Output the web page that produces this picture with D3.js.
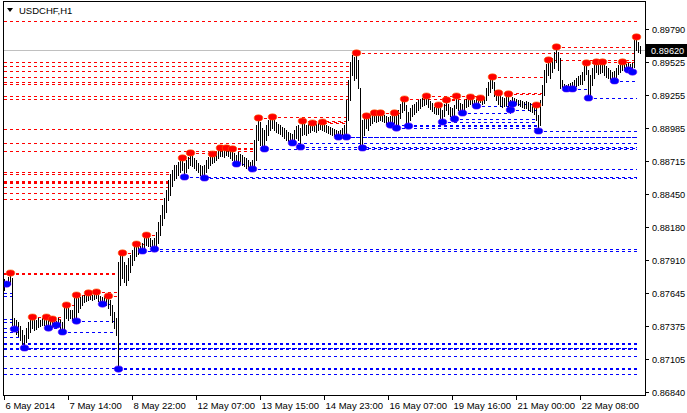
<!DOCTYPE html>
<html><head><meta charset="utf-8">
<script src="https://cdn.jsdelivr.net/npm/d3@7"></script>
<style>
body{margin:0;background:#fff}
svg{display:block}
text{font-family:"Liberation Sans",Arial,sans-serif;fill:#000}
</style>
</head><body>
<svg id="c" width="687" height="413"></svg>
<script>
// ---------------- data ----------------
const symbol = "USDCHF,H1";
const lastPrice = 0.89620;

const high = [
.87758,.87742,.87774,.87807,.87766,.87441,.87425,.87409,.87376,.87344,
.87303,.87360,.87409,.87441,.87449,.87433,.87425,.87441,.87425,.87441,
.87457,.87449,.87441,.87441,.87433,.87425,.87417,.87441,.87425,.87409,
.87547,.87547,.87523,.87506,.87506,.87604,.87628,.87604,.87612,.87620,
.87628,.87636,.87645,.87636,.87628,.87645,.87653,.87628,.87620,.87612,
.87620,.87612,.87620,.87588,.87547,.87490,.87441,.87897,.87953,.87970,
.87897,.87872,.87929,.87953,.87994,.88026,.88042,.88026,.88026,.88051,
.88091,.88115,.88099,.88091,.88075,.88091,.88140,.88222,.88278,.88359,
.88417,.88482,.88563,.88611,.88644,.88684,.88684,.88709,.88725,.88742,
.88701,.88725,.88750,.88783,.88758,.88742,.88725,.88701,.88684,.88676,
.88684,.88725,.88750,.88766,.88774,.88758,.88791,.88807,.88823,.88807,
.88815,.88823,.88807,.88815,.88815,.88783,.88766,.88791,.88774,.88766,
.88750,.88742,.88725,.88709,.88725,.88888,.89010,.89067,.89034,.88985,
.88969,.89010,.89050,.89067,.89075,.89050,.89034,.89017,.89009,.88993,
.88985,.88969,.88953,.88945,.88936,.88969,.89001,.89009,.88985,.89042,
.89017,.89009,.89017,.89026,.89026,.89017,.89017,.89026,.89026,.89034,
.89017,.89009,.89001,.88993,.88985,.88977,.88969,.88961,.88969,.88985,
.89009,.89213,.89376,.89522,.89578,.89562,.89595,.89538,.89311,.89050,
.89067,.89083,.89067,.89091,.89099,.89108,.89091,.89099,.89108,.89099,
.89091,.89083,.89075,.89083,.89099,.89108,.89099,.89132,.89180,.89205,
.89221,.89172,.89115,.89148,.89172,.89180,.89197,.89213,.89221,.89229,
.89237,.89245,.89221,.89205,.89189,.89156,.89156,.89172,.89148,.89132,
.89180,.89213,.89180,.89156,.89148,.89172,.89245,.89213,.89189,.89180,
.89213,.89221,.89229,.89237,.89221,.89213,.89221,.89237,.89229,.89221,
.89237,.89311,.89360,.89384,.89400,.89360,.89294,.89270,.89254,.89238,
.89229,.89246,.89262,.89213,.89238,.89229,.89221,.89213,.89213,.89205,
.89197,.89205,.89197,.89189,.89180,.89180,.89172,.89091,.89213,.89335,
.89457,.89506,.89538,.89514,.89554,.89603,.89644,.89603,.89554,.89376,
.89343,.89335,.89343,.89351,.89360,.89376,.89392,.89408,.89416,.89440,
.89489,.89514,.89457,.89416,.89473,.89506,.89522,.89506,.89514,.89522,
.89506,.89489,.89473,.89457,.89440,.89449,.89473,.89498,.89514,.89522,
.89514,.89506,.89514,.89506,.89514,.89701,.89725,.89684,.89652
];
const low = [
.87669,.87717,.87701,.87717,.87384,.87352,.87311,.87295,.87263,.87230,
.87198,.87247,.87279,.87328,.87360,.87344,.87352,.87368,.87376,.87384,
.87384,.87368,.87360,.87376,.87368,.87384,.87384,.87376,.87352,.87328,
.87344,.87441,.87425,.87441,.87425,.87441,.87417,.87490,.87523,.87547,
.87572,.87580,.87588,.87596,.87588,.87596,.87604,.87580,.87564,.87555,
.87572,.87547,.87523,.87465,.87409,.87360,.87303,.87027,.87709,.87766,
.87734,.87709,.87750,.87815,.87872,.87913,.87945,.87961,.87978,.87986,
.88010,.88034,.88026,.88026,.88018,.88002,.88026,.88051,.88115,.88197,
.88254,.88303,.88400,.88441,.88514,.88563,.88579,.88603,.88628,.88644,
.88587,.88628,.88660,.88684,.88676,.88660,.88644,.88628,.88603,.88595,
.88579,.88628,.88660,.88684,.88701,.88709,.88725,.88742,.88758,.88758,
.88750,.88766,.88758,.88742,.88725,.88709,.88693,.88709,.88701,.88684,
.88676,.88660,.88652,.88668,.88652,.88660,.88725,.88888,.88848,.88823,
.88815,.88888,.88928,.88969,.88985,.88969,.88953,.88945,.88936,.88920,
.88904,.88888,.88880,.88872,.88864,.88888,.88904,.88888,.88831,.88928,
.88936,.88928,.88945,.88953,.88969,.88961,.88953,.88969,.88977,.88969,
.88961,.88953,.88945,.88936,.88928,.88920,.88928,.88912,.88920,.88928,
.88920,.88912,.89050,.89213,.89416,.89376,.89392,.89311,.88848,.88823,
.88928,.88985,.88969,.89009,.89026,.89042,.89034,.89042,.89050,.89042,
.89034,.89017,.89026,.89009,.89034,.89026,.88985,.89017,.89067,.89115,
.89132,.89017,.89001,.89050,.89083,.89099,.89115,.89132,.89148,.89164,
.89172,.89180,.89156,.89140,.89124,.89107,.89099,.89099,.89067,.89034,
.89083,.89132,.89099,.89083,.89067,.89059,.89148,.89132,.89115,.89107,
.89132,.89156,.89164,.89180,.89172,.89180,.89164,.89189,.89197,.89180,
.89189,.89213,.89254,.89278,.89311,.89246,.89213,.89180,.89164,.89156,
.89164,.89172,.89148,.89132,.89180,.89189,.89180,.89172,.89164,.89156,
.89148,.89148,.89132,.89124,.89115,.89099,.89050,.88961,.89009,.89172,
.89254,.89360,.89416,.89392,.89440,.89473,.89522,.89457,.89311,.89319,
.89311,.89303,.89311,.89311,.89303,.89319,.89327,.89335,.89343,.89343,
.89376,.89424,.89229,.89254,.89335,.89392,.89440,.89424,.89432,.89440,
.89416,.89400,.89392,.89384,.89376,.89368,.89400,.89424,.89440,.89457,
.89457,.89457,.89457,.89449,.89440,.89481,.89619,.89603,.89595
];

const priceTicks = [0.89790,0.89525,0.89255,0.88985,0.88715,0.88450,0.88180,0.87910,0.87645,0.87375,0.87105,0.86840];
const timeTickIdx = [0,32,64,96,128,160,192,224,256,288];
const timeTickLabels = ["6 May 2014","7 May 14:00","8 May 22:00","12 May 07:00","13 May 15:00","14 May 23:00","16 May 07:00","19 May 16:00","21 May 00:00","22 May 08:00"];

const LEFT = -3, END = 316;
// up fractals: [bar index, bar index where its level line stops]
const upFractals = [[3,57],[14,20],[21,29],[24,29],[31,35],[36,41],[42,46],[46,57],[52,57],[59,64],[66,70],[71,77],
[89,93],[93,106],[104,106],[108,126],[111,126],[114,126],[127,134],[134,172],[149,171],[154,171],[159,171],
[176,315],[181,183],[185,198],[188,198],[195,198],[200,241],[211,241],[217,221],[221,226],[226,241],[233,241],[238,241],
[244,270],[247,269],[252,269],[266,268],[272,315],[276,315],[291,296],[296,315],[299,315],[309,315],[316,END]];
const downFractals = [[1,4],[5,6],[10,END],[22,28],[26,28],[29,56],[36,55],[49,53],[57,END],[69,END],[75,END],
[90,END],[100,END],[116,121],[124,END],[130,END],[144,END],[148,END],[167,END],[171,END],[179,END],
[193,267],[196,267],[202,267],[219,267],[225,267],[229,253],[236,252],[253,266],[254,265],[267,END],
[281,292],[284,292],[292,END],[305,END],[312,314],[314,END]];
// older levels coming in from the left: [price, start, end]
const resLevels = [[0.89855,LEFT,END],[0.89522,LEFT,173],[0.89489,LEFT,173],[0.89449,LEFT,173],[0.89400,LEFT,173],
[0.89360,LEFT,172],[0.89343,LEFT,172],[0.89245,LEFT,172],[0.89221,LEFT,172],[0.88977,LEFT,125],[0.88864,LEFT,125],
[0.88799,LEFT,125],[0.88628,LEFT,83],[0.88611,LEFT,83],[0.88555,LEFT,82],[0.88547,LEFT,82],[0.88539,LEFT,82],
[0.88506,LEFT,82],[0.88458,LEFT,81],[0.88409,LEFT,80],[0.87807,LEFT,57],[0.87799,LEFT,57]];
const supLevels = [[0.87645,LEFT,4],[0.87620,LEFT,4],[0.87433,LEFT,4],[0.87409,LEFT,4],[0.87360,LEFT,6],
[0.87328,LEFT,8],[0.87287,LEFT,9],[0.87239,LEFT,END],[0.87230,LEFT,END],[0.87198,LEFT,END],[0.87190,LEFT,END],
[0.87132,LEFT,END],[0.87035,LEFT,END],[0.86986,LEFT,END]];

// ---------------- drawing ----------------
const L = 3, R = 645, T = 2, B = 395;
const svg = d3.select("#c");
const x = d3.scaleLinear().domain([0, 318]).range([4, 640]);
const y = d3.scaleLinear().domain([0.86816, 0.90009]).range([B, T]);
const RED = "#ff0000", BLUE = "#0000ff";

svg.append("defs").append("clipPath").attr("id","plot")
  .append("rect").attr("x",L+1).attr("y",T+1).attr("width",R-L-1).attr("height",B-T-1);
const g = svg.append("g").attr("clip-path","url(#plot)");

// current price line
g.append("line").attr("x1",L).attr("x2",R)
  .attr("y1",Math.round(y(lastPrice))+0.5).attr("y2",Math.round(y(lastPrice))+0.5)
  .attr("stroke","#c0c0c0").attr("stroke-width",1);

// level lines
const levelRows = [];
resLevels.forEach(d => levelRows.push({p:d[0], s:d[1], e:d[2], c:RED}));
supLevels.forEach(d => levelRows.push({p:d[0], s:d[1], e:d[2], c:BLUE}));
upFractals.forEach(d => levelRows.push({p:high[d[0]], s:d[0], e:d[1], c:RED}));
downFractals.forEach(d => levelRows.push({p:low[d[0]], s:d[0], e:d[1], c:BLUE}));

g.selectAll("line.lvl").data(levelRows).enter().append("line").attr("class","lvl")
  .attr("x1", d => x(d.s)).attr("x2", d => x(d.e) + 1)
  .attr("y1", d => Math.round(y(d.p)) + 0.5).attr("y2", d => Math.round(y(d.p)) + 0.5)
  .attr("stroke", d => d.c).attr("stroke-width", 1).attr("stroke-dasharray","3,3")
  .attr("shape-rendering","crispEdges");

// bars
g.selectAll("rect.bar").data(high).enter().append("rect").attr("class","bar")
  .attr("x", (d,i) => x(i))
  .attr("y", (d,i) => Math.round(y(high[i])))
  .attr("width", 1)
  .attr("height", (d,i) => Math.max(1, Math.round(y(low[i])) - Math.round(y(high[i])) + 1))
  .attr("fill", "#000").attr("shape-rendering","crispEdges");

// fractal dots
g.selectAll("ellipse.up").data(upFractals).enter().append("ellipse").attr("class","up")
  .attr("cx", d => x(d[0]) + 0.5).attr("cy", d => y(high[d[0]]))
  .attr("rx", 4.3).attr("ry", 3.1).attr("fill", RED)
  .attr("stroke","#ff5a00").attr("stroke-width",0.6);
g.selectAll("ellipse.dn").data(downFractals).enter().append("ellipse").attr("class","dn")
  .attr("cx", d => x(d[0]) + 0.5).attr("cy", d => y(low[d[0]]))
  .attr("rx", 4.3).attr("ry", 3.1).attr("fill", BLUE)
  .attr("stroke","#5a00ff").attr("stroke-width",0.6);

// frame
svg.append("rect").attr("x",L+0.5).attr("y",T-0.5).attr("width",R-L).attr("height",B-T+0.5)
  .attr("fill","none").attr("stroke","#000").attr("stroke-width",1).attr("shape-rendering","crispEdges");

// right price axis
const ya = svg.append("g");
priceTicks.forEach(p => {
  const yy = Math.round(y(p)) + 0.5;
  ya.append("line").attr("x1",R+1).attr("x2",R+4).attr("y1",yy).attr("y2",yy)
    .attr("stroke","#000").attr("shape-rendering","crispEdges");
  ya.append("text").attr("x",R+7).attr("y",yy+3.5).style("font-size","9.2px")
    .text(d3.format(".5f")(p));
});
// last price tag
const ly = Math.round(y(lastPrice));
svg.append("rect").attr("x",R+1).attr("y",ly-6).attr("width",687-R-1).attr("height",13).attr("fill","#000");
svg.append("text").attr("x",R+6).attr("y",ly+4).style("font-size","9.2px").style("fill","#fff")
  .text(d3.format(".5f")(lastPrice));

// bottom time axis
const xa = svg.append("g");
timeTickIdx.forEach((i,k) => {
  const xx = Math.round(x(i)) + 0.5;
  xa.append("line").attr("x1",xx).attr("x2",xx).attr("y1",B+1).attr("y2",B+5)
    .attr("stroke","#000").attr("shape-rendering","crispEdges");
  xa.append("text").attr("x",xx+1).attr("y",B+14).style("font-size","9.5px").text(timeTickLabels[k]);
});

// title
svg.append("path").attr("d","M7,8 L13,8 L10,12 Z").attr("fill","#000");
svg.append("text").attr("x",19).attr("y",14).style("font-size","9.5px").text(symbol);
</script>
</body></html>
